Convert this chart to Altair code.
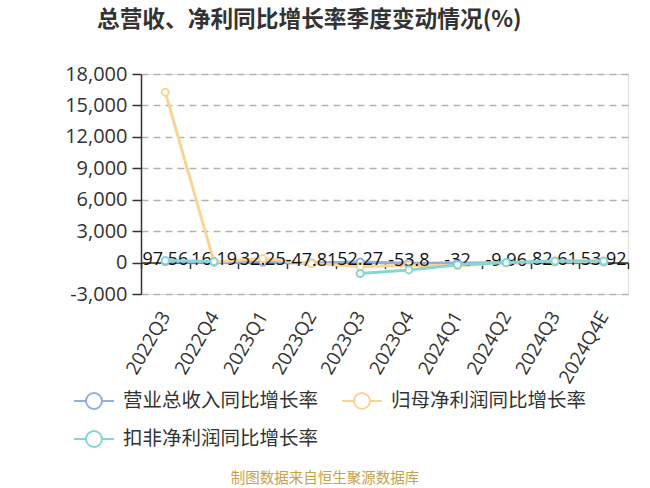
import altair as alt
import pandas as pd

quarters = ["2022Q3", "2022Q4", "2023Q1", "2023Q2", "2023Q3", "2023Q4",
            "2024Q1", "2024Q2", "2024Q3", "2024Q4E"]
revenue_yoy = [97.56, 16.19, 32.25, -47.81, 52.27, -53.8, -32, -9.96, 82.61, 53.92]
parent_np_yoy = [16250, 60, 380, -100, -380, -250, -300, -20, 150, 120]
deducted_np_yoy = [200, 100, None, None, -1050, -700, -200, 0, 150, 150]
series_names = ["营业总收入同比增长率", "归母净利润同比增长率", "扣非净利润同比增长率"]
series_colors = ["#94aee0", "#fcd491", "#86d6d6"]
y_ticks = [-3000, 0, 3000, 6000, 9000, 12000, 15000, 18000]
title_text = "总营收、净利同比增长率季度变动情况(%)"
source_text = "制图数据来自恒生聚源数据库"

rows = []
for name, vals in zip(series_names, [revenue_yoy, parent_np_yoy, deducted_np_yoy]):
    for q, v in zip(quarters, vals):
        rows.append({"quarter": q, "series": name, "value": v,
                     "label": (f"{v:g}" if v is not None else "")})
df = pd.DataFrame(rows)

FONT = "Open Sans"
CJK = "Noto Sans CJK SC"

x_enc = alt.X("quarter:N", sort=quarters, bandPosition=0.5,
              scale=alt.Scale(type="band", paddingInner=0, paddingOuter=0),
              axis=alt.Axis(title=None, labelAngle=-60, labelAlign="right",
                            labelBaseline="middle", labelFontSize=19, labelFont=FONT,
                            labelColor="#333", tickBand="extent", tickSize=6,
                            tickColor="#333", domainColor="#333", domainWidth=1.5,
                            tickWidth=1.5, offset=-31.4, labelPadding=44,
                            grid=False))
y_enc = alt.Y("value:Q",
              scale=alt.Scale(domain=[-3000, 18000], nice=False, zero=False),
              axis=alt.Axis(title=None, values=y_ticks, labelFontSize=20, labelFont=FONT,
                            labelColor="#333", tickSize=9, tickColor="#333",
                            tickWidth=1.5, domainColor="#333", domainWidth=1.5,
                            labelPadding=5, gridDash=[7, 5], gridColor="#b4b4b4",
                            gridWidth=1.5,
                            labelExpr="replace(format(datum.value, ','), '\u2212', '-')"))

color_enc = alt.Color("series:N",
                      scale=alt.Scale(domain=series_names, range=series_colors),
                      sort=series_names,
                      legend=alt.Legend(title=None, orient="none", legendX=-58, legendY=316,
                                        direction="horizontal",
                                        columns=2, columnPadding=19, rowPadding=14,
                                        symbolType="M -2 0 L -0.8 0 M 0.8 0 L 2 0 M -0.8 0 A 0.8 0.8 0 1 0 0.8 0 A 0.8 0.8 0 1 0 -0.8 0",
                                        symbolSize=400, symbolStrokeWidth=2,
                                        symbolFillColor="#ffffff", labelFont=CJK,
                                        labelFontSize=19.5, labelColor="#333",
                                        labelOffset=18, labelLimit=400))

layers = []
for name in series_names:
    sub = alt.Chart(df).transform_filter(alt.datum.series == name)
    layers.append(sub.mark_line(strokeWidth=3).encode(x=x_enc, y=y_enc, color=color_enc))
    layers.append(sub.mark_point(filled=False, fill="white", size=50, strokeWidth=2,
                                 opacity=1).encode(x=x_enc, y=y_enc, color=color_enc))

labels = alt.Chart(df).transform_filter(alt.datum.series == series_names[0]).mark_text(
    fontSize=18, font=FONT, color="#111", baseline="middle", dy=-2
).encode(x=x_enc, y=y_enc, text="label:N")

source = alt.Chart(pd.DataFrame({"t": [source_text]})).mark_text(
    fontSize=14.5, font=CJK, color="#c9a14b", baseline="middle"
).encode(x=alt.value(184), y=alt.value(405), text="t:N")

chart = alt.layer(*layers[:4], labels, *layers[4:], source).properties(
    width=487, height=220,
    padding={"left": 141, "top": 74, "right": 22, "bottom": 194},
    autosize="none",
    title=alt.TitleParams(title_text, anchor="start", frame="group", dx=-44, offset=32,
                          fontSize=22.7, fontWeight="bold", color="#333", font=CJK),
).configure_view(stroke=None).configure(background="white")

chart.save("out.html", embed_options={"renderer": "svg", "actions": False})
